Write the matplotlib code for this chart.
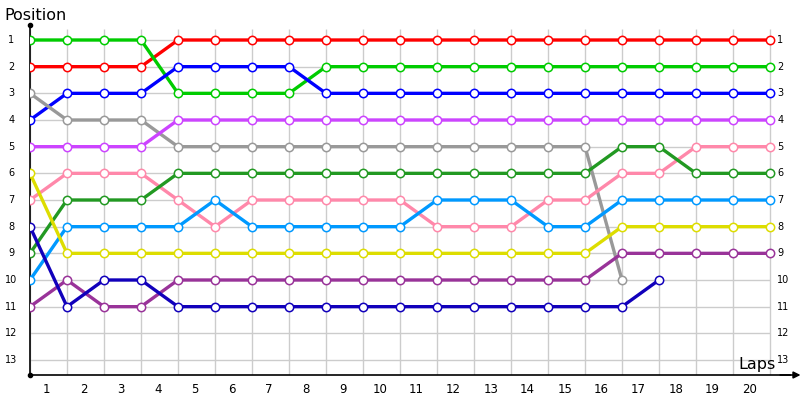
import matplotlib.pyplot as plt

# Posições por volta (ponto 0 = largada, pontos 1..20 = fim de cada volta)
red = [2, 2, 2, 2, 1, 1, 1, 1, 1, 1, 1, 1, 1, 1, 1, 1, 1, 1, 1, 1, 1]
green = [1, 1, 1, 1, 3, 3, 3, 3, 2, 2, 2, 2, 2, 2, 2, 2, 2, 2, 2, 2, 2]
blue = [4, 3, 3, 3, 2, 2, 2, 2, 3, 3, 3, 3, 3, 3, 3, 3, 3, 3, 3, 3, 3]
gray = [3, 4, 4, 4, 5, 5, 5, 5, 5, 5, 5, 5, 5, 5, 5, 5, 10]
violet = [5, 5, 5, 5, 4, 4, 4, 4, 4, 4, 4, 4, 4, 4, 4, 4, 4, 4, 4, 4, 4]
pink = [7, 6, 6, 6, 7, 8, 7, 7, 7, 7, 7, 8, 8, 8, 7, 7, 6, 6, 5, 5, 5]
dark_green = [9, 7, 7, 7, 6, 6, 6, 6, 6, 6, 6, 6, 6, 6, 6, 6, 5, 5, 6, 6, 6]
light_blue = [10, 8, 8, 8, 8, 7, 8, 8, 8, 8, 8, 7, 7, 7, 8, 8, 7, 7, 7, 7, 7]
yellow = [6, 9, 9, 9, 9, 9, 9, 9, 9, 9, 9, 9, 9, 9, 9, 9, 8, 8, 8, 8, 8]
purple = [11, 10, 11, 11, 10, 10, 10, 10, 10, 10, 10, 10, 10, 10, 10, 10, 9, 9, 9, 9, 9]
dark_blue = [8, 11, 10, 10, 11, 11, 11, 11, 11, 11, 11, 11, 11, 11, 11, 11, 11, 10]

series = [
    (red, '#ff0000'),
    (green, '#00cc00'),
    (blue, '#0000ff'),
    (gray, '#999999'),
    (violet, '#cc44ff'),
    (pink, '#ff88aa'),
    (dark_green, '#229922'),
    (light_blue, '#0099ff'),
    (yellow, '#dddd00'),
    (purple, '#993399'),
    (dark_blue, '#1100bb'),
]

positions = list(range(1, 14))
laps = list(range(1, 21))
n_points = 21

fig = plt.figure(figsize=(8, 4), dpi=100)
ax = fig.add_axes([0.0375, 0.0625, 0.95, 0.875])
ax.set_xlim(0, 20.54)
ax.set_ylim(13.5625, 0.4375)

# Grade
ax.hlines(positions, 0, n_points - 1, colors='#cccccc', linewidth=1, zorder=1)
ax.vlines(range(n_points), 0.6, 13.5625, colors='#cccccc', linewidth=1, zorder=1)

for values, color in series:
    x = list(range(len(values)))
    ax.plot(x, values, color=color, linewidth=2.4, zorder=3)
    ax.plot(x, values, 'o', markersize=6, markerfacecolor='white',
            markeredgecolor=color, markeredgewidth=1.1, zorder=4)

# Eixos
for s in ['top', 'right']:
    ax.spines[s].set_visible(False)
ax.spines['left'].set_linewidth(1.2)
ax.spines['bottom'].set_linewidth(1.2)
ax.set_xticks([])
ax.set_yticks([])

ax.plot(0, 0.4375, 'o', color='black', markersize=3, clip_on=False, zorder=5)
ax.plot(0, 13.5625, 'o', color='black', markersize=3, clip_on=False, zorder=5)
ax.annotate('', xy=(20.9, 13.5625), xytext=(20.2, 13.5625),
            arrowprops=dict(arrowstyle='-|>', color='black', lw=1.2),
            annotation_clip=False)

# Rótulos
for p in positions:
    ax.text(-0.5, p, str(p), ha='center', va='center', fontsize=7, clip_on=False)
    ax.text(20.2, p, str(p), ha='left', va='center', fontsize=7, clip_on=False)
for lap in laps:
    ax.text(lap - 0.55, 14.1, str(lap), ha='center', va='center', fontsize=8.5, clip_on=False)

fig.text(0.006, 0.962, 'Position', fontsize=11.5, ha='left', va='center')
ax.text(20.15, 13.15, 'Laps', fontsize=11.5, ha='right', va='center')

fig.savefig('out.png', dpi=100)
